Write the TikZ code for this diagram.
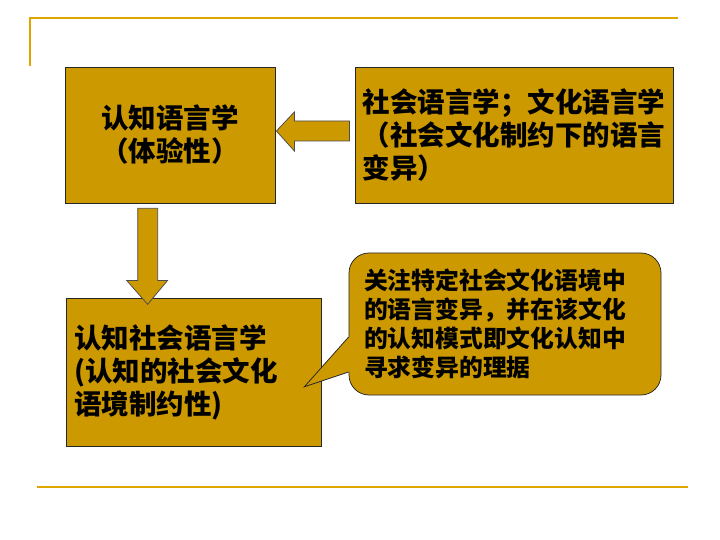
\documentclass[tikz,border=0pt]{standalone}
\usepackage{fontspec}
\setmainfont{Noto Sans CJK SC}
\usepackage{xcolor}
\usepackage{tikz}
\usetikzlibrary{calc}
\usetikzlibrary{positioning}
\definecolor{boxgold}{RGB}{204,153,0}
\definecolor{rulegold}{RGB}{224,166,0}
\tikzstyle{block}  = [rectangle, draw=black!85, fill=boxgold, line width=0.75bp, inner sep=0pt, font=\fontsize{27.5bp}{33bp}\selectfont\bfseries]
\tikzstyle{note}   = [block, rounded corners=20bp, font=\fontsize{23.8bp}{29bp}\selectfont\bfseries]
\tikzstyle{barrow} = [draw=black!70, fill=boxgold, line width=0.75bp]
\tikzstyle{rule}   = [draw=rulegold, line width=1.5bp]

\begin{document}
\begin{tikzpicture}[x=1bp, y=-1bp]
        \useasboundingbox (0,0) rectangle (720,540);
        \draw [rule] (30,66) -- (30,18) -- (678,18);
        \draw [rule] (37,487) -- (688,487);
        \node [block, minimum width=210bp, minimum height=136bp, align=center] (cog) at (170,135) {认知语言学\\（体验性）};
        \node [block, right=80bp of cog, minimum width=318bp, minimum height=136bp, text width=304bp, align=left] (soc) {社会语言学；文化语言学\\（社会文化制约下的语言\\变异）};
        \node [block, below right=95bp and 1bp of cog.south west, minimum width=255bp, minimum height=148bp, text width=239bp, align=left] (cogsoc) {认知社会语言学\\(认知的社会文化\\语境制约性)};
        \node [note, minimum width=312bp, minimum height=142bp, text width=282bp, align=left] (note) at (505,324) {关注特定社会文化语境中\\的语言变异，并在该文化\\的认知模式即文化认知中\\寻求变异的理据};
        \coordinate (tip) at ($(cogsoc.east)+(-17,14)$);
        \fill [boxgold] ($(note.west)+(2,13)$) -- ($(note.west)+(0,13)$) -- (tip) -- ($(note.west)+(0,48)$) -- ($(note.west)+(2,48)$) -- cycle;
        \draw [black!85, line width=0.75bp] ($(note.west)+(0,13)$) -- (tip) -- ($(note.west)+(0,48)$);
        \path [barrow] ($(soc.west)+(-6,-14)$) -- ++(-55,0) -- ++(0,-9) -- ($(cog.east)+(1,-4)$) -- ++(18,20) -- ++(0,-10) -- ++(55,0) -- cycle;
        \path [barrow] ($(cog.south west)+(73,5)$) -- ++(20,0) -- ++(0,72) -- ++(10,0) -- ($(cogsoc.north west)+(82,6)$) -- ++(-21,-24) -- ++(11,0) -- cycle;
    \end{tikzpicture}
\end{document}
